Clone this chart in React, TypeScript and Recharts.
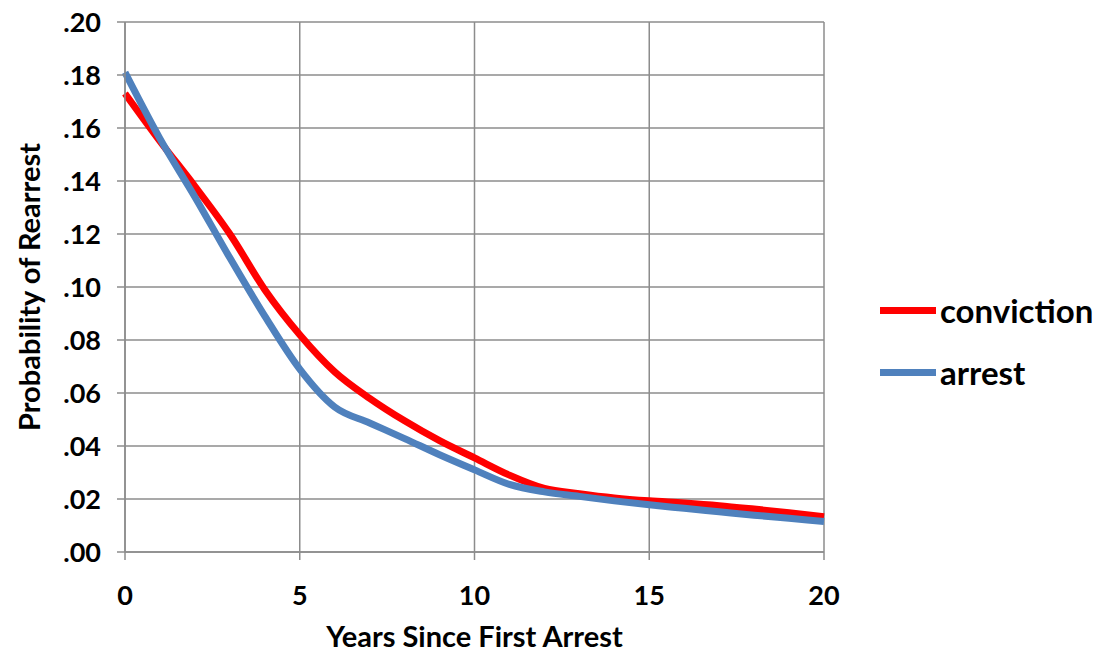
import { LineChart, Line, XAxis, YAxis, CartesianGrid } from "recharts";

const years = [0, 1, 2, 3, 4, 5, 6, 7, 8, 9, 10, 11, 12, 13, 14, 15, 16, 17, 18, 19, 20];
const conviction = [
  0.173, 0.155, 0.138, 0.12, 0.099, 0.082, 0.068, 0.058, 0.0495, 0.042, 0.0355,
  0.029, 0.024, 0.022, 0.0204, 0.0193, 0.0185, 0.0175, 0.0162, 0.0148, 0.0133,
];
const arrest = [
  0.181, 0.156, 0.134, 0.111, 0.089, 0.069, 0.0547, 0.0487, 0.0428, 0.0367, 0.031,
  0.0255, 0.0227, 0.021, 0.0193, 0.0178, 0.0165, 0.0152, 0.0139, 0.0127, 0.0115,
];
const xTicks = [0, 5, 10, 15, 20];
const yTicks = [0, 0.02, 0.04, 0.06, 0.08, 0.1, 0.12, 0.14, 0.16, 0.18, 0.2];
const seriesNames = ["conviction", "arrest"];
const seriesColors = ["#ff0000", "#4f81bd"];

const data = years.map((y, i) => ({ year: y, conviction: conviction[i], arrest: arrest[i] }));

const FONT = "Lato, 'Open Sans', sans-serif";
const GRID = "#8c8c8c";

export default function App() {
  return (
    <div style={{ position: "absolute", left: 0, top: 0, width: 1101, height: 653, fontFamily: FONT }}>
      <LineChart width={1101} height={653} data={data} margin={{ top: 22, right: 277, bottom: 0, left: 0 }}>
        <CartesianGrid stroke={GRID} strokeWidth={1.5} verticalValues={xTicks} horizontalValues={yTicks} />
        <XAxis
          dataKey="year"
          type="number"
          domain={[0, 20]}
          ticks={xTicks}
          height={101}
          stroke={GRID}
          strokeWidth={1.5}
          tickSize={8}
          tickMargin={26}
          tick={{ fill: "#000", fontSize: 27, fontWeight: 700, fontFamily: FONT }}
          label={{
            value: "Years Since First Arrest",
            position: "insideBottom",
            offset: 6,
            fill: "#000",
            fontSize: 29,
            fontWeight: 700,
            fontFamily: FONT,
          }}
        />
        <YAxis
          type="number"
          domain={[0, 0.2]}
          ticks={yTicks}
          width={125}
          stroke={GRID}
          strokeWidth={1.5}
          tickSize={8}
          tickMargin={16}
          tickFormatter={(v: number) => v.toFixed(2).replace(/^0/, "")}
          tick={{ fill: "#000", fontSize: 27, fontWeight: 700, fontFamily: FONT }}
          label={{
            content: (props: any) => {
              const vb = props.viewBox;
              const cx = vb.x + 28;
              const cy = vb.y + vb.height / 2;
              return (
                <text
                  x={cx}
                  y={cy}
                  transform={`rotate(-90, ${cx}, ${cy})`}
                  textAnchor="middle"
                  dominantBaseline="central"
                  fill="#000"
                  fontSize={29}
                  fontWeight={700}
                  fontFamily={FONT}
                >
                  Probability of Rearrest
                </text>
              );
            },
          }}
        />
        <Line
          dataKey="conviction"
          name={seriesNames[0]}
          type="monotone"
          stroke={seriesColors[0]}
          strokeWidth={7}
          dot={false}
          isAnimationActive={false}
        />
        <Line
          dataKey="arrest"
          name={seriesNames[1]}
          type="monotone"
          stroke={seriesColors[1]}
          strokeWidth={7}
          dot={false}
          isAnimationActive={false}
        />
      </LineChart>
      {seriesNames.map((name, i) => (
        <div
          key={name}
          style={{
            position: "absolute",
            left: 880,
            top: 288 + i * 62,
            height: 44,
            display: "flex",
            alignItems: "center",
            fontSize: 33,
            fontWeight: 700,
            color: "#000",
          }}
        >
          <span style={{ display: "inline-block", width: 56, height: 7, background: seriesColors[i], marginRight: 4 }} />
          {name}
        </div>
      ))}
    </div>
  );
}
